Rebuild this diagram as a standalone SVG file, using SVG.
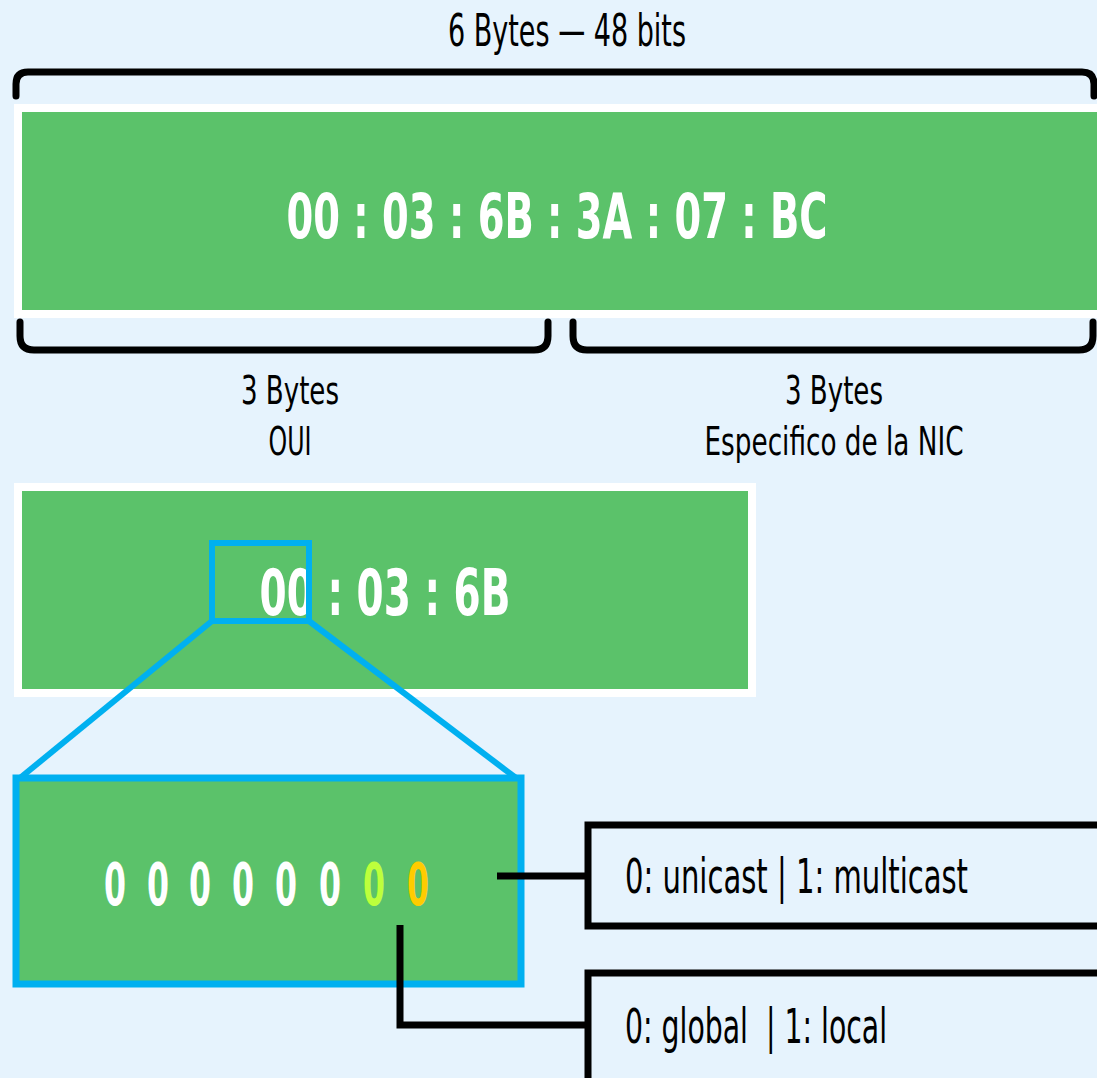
<svg xmlns="http://www.w3.org/2000/svg" width="1097" height="1078" viewBox="0 0 1097 1078">
<style>
.t{font-family:"Liberation Sans Narrow","DejaVu Sans Condensed","Liberation Sans",sans-serif;fill:#000}
.w{font-family:"Liberation Sans Narrow","DejaVu Sans Condensed","Liberation Sans",sans-serif;font-weight:bold;fill:#fff}
.br{fill:none;stroke:#000;stroke-width:7;stroke-linecap:round}
.blk{fill:none;stroke:#000;stroke-width:7}
.blue{fill:none;stroke:#00B0F0;stroke-width:6}
</style>
<rect x="0" y="0" width="1097" height="1078" fill="#E6F3FD"/>
<text class="t" x="567" y="46" font-size="44" text-anchor="middle" textLength="238" lengthAdjust="spacingAndGlyphs">6 Bytes — 48 bits</text>
<g id="bracket-top"><path class="br" d="M16 96 L16 84 Q16 72 28 72 L1082 72 Q1094 72 1094 84 L1094 96"/></g>
<g id="mac-full">
<rect x="18" y="108" width="1083" height="206" fill="#5BC26A" stroke="#fff" stroke-width="8"/>
<text class="w" x="557" y="238" font-size="62" text-anchor="middle" textLength="541" lengthAdjust="spacingAndGlyphs">00 : 03 : 6B : 3A : 07 : BC</text>
</g>
<g id="bracket-oui"><path class="br" d="M20 322 L20 336 Q20 350 34 350 L534 350 Q548 350 548 336 L548 322"/></g>
<g id="bracket-nic"><path class="br" d="M573 322 L573 336 Q573 350 587 350 L1079 350 Q1093 350 1093 336 L1093 322"/></g>
<g id="label-oui">
<text class="t" x="290" y="404" font-size="39" text-anchor="middle" textLength="98" lengthAdjust="spacingAndGlyphs">3 Bytes</text>
<text class="t" x="290" y="455" font-size="39" text-anchor="middle" textLength="43" lengthAdjust="spacingAndGlyphs">OUI</text>
</g>
<g id="label-nic">
<text class="t" x="834" y="404" font-size="39" text-anchor="middle" textLength="98" lengthAdjust="spacingAndGlyphs">3 Bytes</text>
<text class="t" x="834" y="455" font-size="39" text-anchor="middle" textLength="259" lengthAdjust="spacingAndGlyphs">Especifico de la NIC</text>
</g>
<g id="mac-oui">
<rect x="18" y="487" width="734" height="206" fill="#5BC26A" stroke="#fff" stroke-width="8"/>
<text class="w" x="385" y="615" font-size="64" text-anchor="middle" textLength="251" lengthAdjust="spacingAndGlyphs">00 : 03 : 6B</text>
</g>
<g id="bits">
<rect x="16" y="778" width="505" height="206" fill="#5BC26A" stroke="#00B0F0" stroke-width="7"/>
<g font-size="58">
<text class="w" x="115" y="905" text-anchor="middle" textLength="22" lengthAdjust="spacingAndGlyphs">0</text>
<text class="w" x="158" y="905" text-anchor="middle" textLength="22" lengthAdjust="spacingAndGlyphs">0</text>
<text class="w" x="200" y="905" text-anchor="middle" textLength="22" lengthAdjust="spacingAndGlyphs">0</text>
<text class="w" x="243" y="905" text-anchor="middle" textLength="22" lengthAdjust="spacingAndGlyphs">0</text>
<text class="w" x="286" y="905" text-anchor="middle" textLength="22" lengthAdjust="spacingAndGlyphs">0</text>
<text class="w" x="330" y="905" text-anchor="middle" textLength="22" lengthAdjust="spacingAndGlyphs">0</text>
<text class="w" x="374" y="905" text-anchor="middle" textLength="22" lengthAdjust="spacingAndGlyphs" style="fill:#BDFF3C">0</text>
<text class="w" x="418" y="905" text-anchor="middle" textLength="22" lengthAdjust="spacingAndGlyphs" style="fill:#FFCC00">0</text>
</g>
</g>
<g id="box-cast">
<rect class="blk" x="588" y="825" width="520" height="101"/>
<text class="t" x="625" y="893" font-size="48" textLength="343" lengthAdjust="spacingAndGlyphs">0: unicast | 1: multicast</text>
</g>
<g id="box-scope">
<rect class="blk" x="588" y="973" width="520" height="120"/>
<text class="t" x="625" y="1043" font-size="48" textLength="262" lengthAdjust="spacingAndGlyphs" xml:space="preserve">0: global  | 1: local</text>
</g>
<g id="connectors">
<rect class="blue" x="212" y="543" width="97" height="78"/>
<line class="blue" x1="212" y1="621" x2="20" y2="778"/>
<line class="blue" x1="309" y1="621" x2="516" y2="778"/>
<line class="blk" x1="497" y1="876" x2="588" y2="876"/>
<polyline class="blk" points="400,925 400,1025 588,1025"/>
</g>
</svg>
